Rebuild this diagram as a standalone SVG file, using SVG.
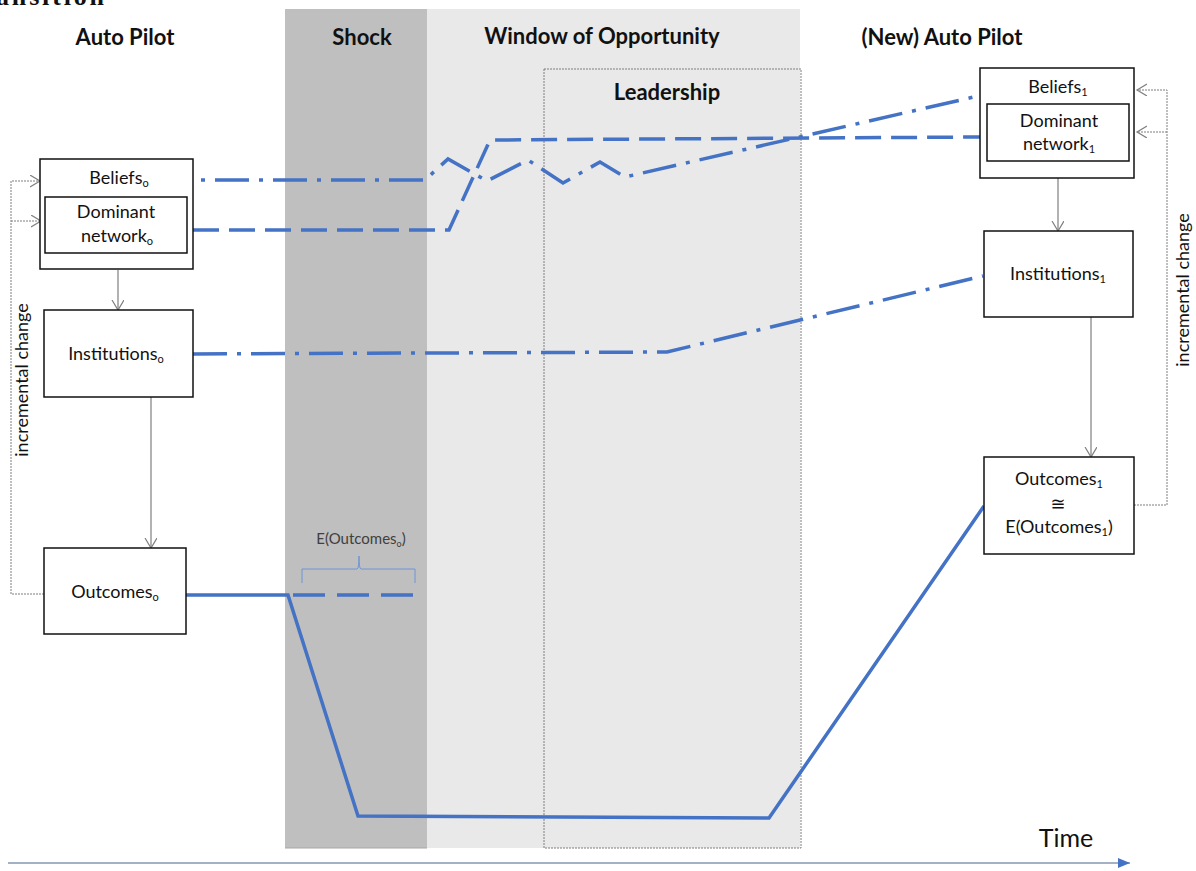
<svg xmlns="http://www.w3.org/2000/svg" width="1196" height="871" viewBox="0 0 1196 871">
<style>
.hd{font-family:Lato,"Liberation Sans",sans-serif;font-weight:bold;font-size:22px;fill:#111;text-anchor:middle}
.lb{font-family:Lato,"DejaVu Sans","Liberation Sans",sans-serif;font-size:18px;fill:#111;text-anchor:middle}
.sub{font-size:11px}
.box{fill:#fff;stroke:#111;stroke-width:1.5}
.conn{stroke:#7f7f7f;stroke-width:1.2;fill:none}
.fb{stroke:#7f7f7f;stroke-width:1;fill:none;stroke-dasharray:2 1}
.blue{stroke:#4472c4;stroke-width:3.5;fill:none;stroke-linejoin:miter}
.dash{stroke-dasharray:26 10}
.dd{stroke-dasharray:34 10 4 10}
</style>
<defs>
<marker id="open" markerWidth="14" markerHeight="14" refX="10" refY="6" orient="auto" markerUnits="userSpaceOnUse">
<path d="M0,0 L10,6 L0,12" fill="none" stroke="#7f7f7f" stroke-width="1.2"/>
</marker>
<marker id="tri" markerWidth="14" markerHeight="12" refX="12" refY="5" orient="auto" markerUnits="userSpaceOnUse">
<path d="M0,0 L12,5 L0,10 Z" fill="#4472c4"/>
</marker>
</defs>
<text x="-4" y="5" font-family="Liberation Serif,serif" font-weight="bold" font-size="26" fill="#111" textLength="108">ansition</text>
<g id="bands">
<rect x="285" y="9" width="142" height="839" fill="#bfbfbf"/>
<rect x="427" y="9" width="373" height="839" fill="#e9e9e9"/>
<line x1="285" y1="848" x2="427" y2="848" stroke="#a6a6a6" stroke-width="1"/>
<rect id="leadership" x="544" y="69" width="257" height="779" fill="none" stroke="#7f7f7f" stroke-width="1" stroke-dasharray="2 1"/>
</g>
<g id="headers">
<text class="hd" x="125" y="45">Auto Pilot</text>
<text class="hd" x="362" y="45">Shock</text>
<text class="hd" x="602" y="44">Window of Opportunity</text>
<text class="hd" x="667" y="100">Leadership</text>
<text class="hd" x="942" y="45">(New) Auto Pilot</text>
</g>
<g id="connectors">
<line class="conn" x1="118" y1="270" x2="118" y2="310" marker-end="url(#open)"/>
<line class="conn" x1="151" y1="397" x2="151" y2="548" marker-end="url(#open)"/>
<line class="conn" x1="1058" y1="178" x2="1058" y2="231" marker-end="url(#open)"/>
<line class="conn" x1="1091" y1="317" x2="1091" y2="457" marker-end="url(#open)"/>
<path class="fb" d="M44,594 H11 V181 H40" marker-end="url(#open)"/>
<path class="fb" d="M11,221 H41" marker-end="url(#open)"/>
<path class="fb" d="M1134,505 H1167 V90 H1137" marker-end="url(#open)"/>
<path class="fb" d="M1167,132 H1137" marker-end="url(#open)"/>
<line x1="8" y1="863" x2="1130" y2="863" stroke="#8497b0" stroke-width="1.5" marker-end="url(#tri)"/>
</g>
<g id="trajectories">
<polyline class="blue dd" points="157,180 425,180 448,159 487,181 528,160 563,183 600,162 625,177 1013,88"/>
<polyline class="blue dash" points="193,230 449,230 490,140 983,137"/>
<polyline class="blue dd" points="193,354 667,352 983,276"/>
<polyline class="blue" points="186,595 288,595 358,816 769,818 984,506"/>
<line class="blue" x1="293" y1="595" x2="415" y2="595" stroke-dasharray="32 12"/>
<path d="M302,583 V569 H357 Q359,569 359,556 Q359,569 361,569 H415 V583" fill="none" stroke="#6f94d6" stroke-width="1"/>
<text x="361" y="544" font-family="Lato,'Liberation Sans',sans-serif" font-size="15" fill="#404040" text-anchor="middle">E(Outcomes<tspan font-size="9" dy="3">o</tspan><tspan dy="-3">)</tspan></text>
</g>
<g id="beliefs0">
<rect class="box" x="40" y="159" width="153" height="110"/>
<text class="lb" x="119" y="184">Beliefs<tspan class="sub" dy="3">o</tspan></text>
<rect class="box" x="45" y="197" width="142" height="56"/>
<text class="lb" x="116" y="218">Dominant</text>
<text class="lb" x="117" y="242">network<tspan class="sub" dy="3">o</tspan></text>
</g>
<g id="institutions0">
<rect class="box" x="44" y="310" width="149" height="87"/>
<text class="lb" x="116" y="360">Institutions<tspan class="sub" dy="3">o</tspan></text>
</g>
<g id="outcomes0">
<rect class="box" x="44" y="548" width="142" height="86"/>
<text class="lb" x="115" y="598">Outcomes<tspan class="sub" dy="3">o</tspan></text>
</g>
<g id="beliefs1">
<rect class="box" x="980" y="68" width="154" height="110"/>
<text class="lb" x="1058" y="93">Beliefs<tspan class="sub" dy="3">1</tspan></text>
<rect class="box" x="987" y="104" width="142" height="57"/>
<text class="lb" x="1059" y="127">Dominant</text>
<text class="lb" x="1059" y="150">network<tspan class="sub" dy="3">1</tspan></text>
</g>
<g id="institutions1">
<rect class="box" x="984" y="231" width="149" height="86"/>
<text class="lb" x="1058" y="280">Institutions<tspan class="sub" dy="3">1</tspan></text>
</g>
<g id="outcomes1">
<rect class="box" x="984" y="457" width="150" height="97"/>
<text class="lb" x="1059" y="485">Outcomes<tspan class="sub" dy="3">1</tspan></text>
<text class="lb" x="1058" y="510">≅</text>
<text class="lb" x="1059" y="533">E(Outcomes<tspan class="sub" dy="3">1</tspan><tspan dy="-3">)</tspan></text>
</g>
<g id="labels">
<text class="lb" font-size="19" transform="translate(28,380) rotate(-90)">incremental change</text>
<text class="lb" font-size="19" transform="translate(1189,290) rotate(-90)">incremental change</text>
<text x="1066" y="847" font-family="Lato,'Liberation Sans',sans-serif" font-size="25" fill="#111" text-anchor="middle">Time</text>
</g>
</svg>
